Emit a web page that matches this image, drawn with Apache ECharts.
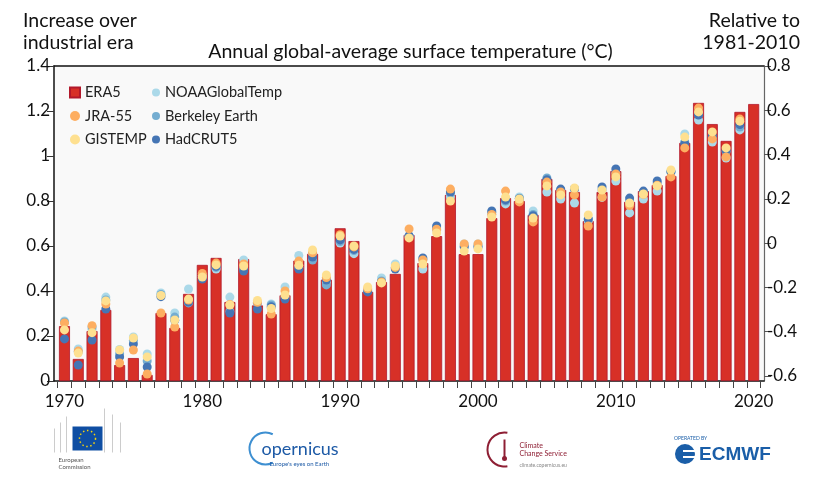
<!DOCTYPE html>
<html>
<head>
<meta charset="utf-8">
<script src="https://cdn.jsdelivr.net/npm/echarts@6/dist/echarts.min.js"></script>
<style>
  html, body { margin: 0; background: #fff; }
  #chart { width: 821px; height: 477px; }
</style>
</head>
<body>
<div id="chart"></div>
<script>
// years shown on the x axis
const years = [1970, 1971, 1972, 1973, 1974, 1975, 1976, 1977, 1978, 1979,
  1980, 1981, 1982, 1983, 1984, 1985, 1986, 1987, 1988, 1989,
  1990, 1991, 1992, 1993, 1994, 1995, 1996, 1997, 1998, 1999,
  2000, 2001, 2002, 2003, 2004, 2005, 2006, 2007, 2008, 2009,
  2010, 2011, 2012, 2013, 2014, 2015, 2016, 2017, 2018, 2019, 2020]

// increase over industrial era (°C)
const era5 = [0.244, 0.098, 0.222, 0.316, 0.071, 0.102, 0.027, 0.302, 0.236, 0.387,
  0.516, 0.547, 0.351, 0.542, 0.336, 0.297, 0.381, 0.535, 0.565, 0.450,
  0.679, 0.622, 0.396, 0.440, 0.476, 0.649, 0.524, 0.644, 0.827, 0.564,
  0.564, 0.724, 0.813, 0.800, 0.738, 0.898, 0.849, 0.840, 0.711, 0.840,
  0.933, 0.796, 0.844, 0.871, 0.911, 1.058, 1.236, 1.142, 1.067, 1.196, 1.231]

const jra55 = [0.258, 0.133, 0.246, 0.342, 0.080, 0.138, 0.031, 0.302, 0.240, 0.360,
  0.478, 0.524, 0.340, 0.520, 0.350, 0.298, 0.400, 0.533, 0.570, 0.460,
  0.650, 0.596, 0.410, 0.440, 0.505, 0.676, 0.538, 0.675, 0.853, 0.609,
  0.609, 0.740, 0.844, 0.796, 0.707, 0.884, 0.840, 0.827, 0.689, 0.818,
  0.920, 0.780, 0.830, 0.870, 0.907, 1.036, 1.213, 1.076, 0.996, 1.164, null]

const gistemp = [0.227, 0.124, 0.215, 0.356, 0.138, 0.191, 0.107, 0.380, 0.271, 0.364,
  0.462, 0.516, 0.338, 0.511, 0.358, 0.322, 0.382, 0.514, 0.582, 0.471,
  0.644, 0.600, 0.418, 0.436, 0.511, 0.636, 0.520, 0.658, 0.800, 0.578,
  0.587, 0.729, 0.818, 0.809, 0.724, 0.867, 0.827, 0.858, 0.738, 0.849,
  0.907, 0.791, 0.831, 0.867, 0.938, 1.084, 1.196, 1.107, 1.036, 1.155, null]

const noaa = [0.267, 0.142, 0.230, 0.373, 0.140, 0.196, 0.120, 0.391, 0.302, 0.409,
  0.470, 0.498, 0.373, 0.538, 0.350, 0.342, 0.418, 0.558, 0.568, 0.440,
  0.613, 0.566, 0.405, 0.458, 0.520, 0.645, 0.498, 0.670, 0.818, 0.609,
  0.609, 0.740, 0.787, 0.818, 0.756, 0.840, 0.809, 0.791, 0.711, 0.816,
  0.889, 0.747, 0.809, 0.844, 0.930, 1.098, 1.160, 1.062, 0.991, 1.116, null]

const berkeley = [0.262, 0.130, 0.240, 0.360, 0.120, 0.180, 0.089, 0.385, 0.284, 0.347,
  0.460, 0.505, 0.310, 0.498, 0.345, 0.338, 0.372, 0.505, 0.538, 0.427,
  0.620, 0.580, 0.400, 0.445, 0.505, 0.645, 0.540, 0.680, 0.835, 0.600,
  0.600, 0.750, 0.800, 0.812, 0.740, 0.902, 0.849, 0.852, 0.720, 0.850,
  0.925, 0.800, 0.838, 0.880, 0.930, 1.062, 1.185, 1.085, 1.020, 1.129, null]

const hadcrut5 = [0.187, 0.071, 0.182, 0.320, 0.107, 0.164, 0.062, 0.375, 0.270, 0.351,
  0.453, 0.510, 0.302, 0.489, 0.320, 0.330, 0.364, 0.498, 0.551, 0.449,
  0.627, 0.585, 0.396, 0.440, 0.498, 0.645, 0.547, 0.689, 0.840, 0.596,
  0.596, 0.756, 0.805, 0.810, 0.735, 0.895, 0.853, 0.855, 0.720, 0.862,
  0.942, 0.813, 0.844, 0.889, 0.930, 1.055, 1.182, 1.089, 1.025, 1.140, null]

const xLabelYears = [1970, 1980, 1990, 2000, 2010, 2020]
const xTickYears = [1969.5, 1970.5, 1971.5, 1972.5, 1973.5, 1974.5, 1975.5, 1976.5, 1977.5, 1978.5,
  1979.5, 1980.5, 1981.5, 1982.5, 1983.5, 1984.5, 1985.5, 1986.5, 1987.5, 1988.5,
  1989.5, 1990.5, 1991.5, 1992.5, 1993.5, 1994.5, 1995.5, 1996.5, 1997.5, 1998.5,
  1999.5, 2000.5, 2001.5, 2002.5, 2003.5, 2004.5, 2005.5, 2006.5, 2007.5, 2008.5,
  2009.5, 2010.5, 2011.5, 2012.5, 2013.5, 2014.5, 2015.5, 2016.5, 2017.5, 2018.5,
  2019.5, 2020.5]
const rightTicks = [-0.6, -0.4, -0.2, 0, 0.2, 0.4, 0.6, 0.8]

const FONT = 'Lato'
const pairs = arr => years.map((y, i) => [y, arr[i]]).filter(d => d[1] != null)

const dots = (name, color, data) => ({
  name,
  type: 'scatter',
  xAxisIndex: 0,
  yAxisIndex: 0,
  data: pairs(data),
  symbolSize: 9,
  itemStyle: { color, opacity: 1 },
  z: 3
})

const headStyle = { fontFamily: FONT, fontSize: 19.5, fontWeight: 'normal', color: '#111', lineHeight: 22 }

const chart = echarts.init(document.getElementById('chart'))

const option = {
  backgroundColor: '#fff',
  animation: false,
  textStyle: { fontFamily: FONT },
  title: [
    { text: 'Annual global-average surface temperature (°C)', left: 'center', top: 36, textStyle: headStyle },
    { text: 'Increase over\nindustrial era', left: 18, top: 5, textStyle: headStyle },
    { text: 'Relative to', right: 16, top: 5, textStyle: headStyle },
    { text: '1981-2010', right: 16, top: 27, textStyle: headStyle }
  ],
  legend: [
    {
      orient: 'vertical',
      left: 64,
      top: 80,
      itemWidth: 10,
      itemHeight: 10,
      itemGap: 8.5,
      textStyle: { fontFamily: FONT, fontSize: 14.5, color: '#222' },
      data: [
        { name: 'ERA5', icon: 'rect' },
        { name: 'JRA-55', icon: 'circle' },
        { name: 'GISTEMP', icon: 'circle' }
      ]
    },
    {
      orient: 'vertical',
      left: 147,
      top: 80,
      itemWidth: 8,
      itemHeight: 8,
      itemGap: 8.5,
      textStyle: { fontFamily: FONT, fontSize: 14.5, color: '#222' },
      data: [
        { name: 'NOAAGlobalTemp', icon: 'circle' },
        { name: 'Berkeley Earth', icon: 'circle' },
        { name: 'HadCRUT5', icon: 'circle' }
      ]
    }
  ],
  grid: {
    left: 54,
    right: 57,
    top: 66,
    bottom: 96,
    show: true,
    backgroundColor: '#f9f9f9',
    borderWidth: 0
  },
  xAxis: [
    {
      type: 'value',
      min: 1969.24,
      max: 2020.75,
      splitLine: { show: false },
      axisLine: { show: true, onZero: false, lineStyle: { color: '#111', width: 1.5 } },
      axisTick: { show: true, length: 7, customValues: xTickYears, lineStyle: { color: '#444' } },
      axisLabel: {
        customValues: xLabelYears,
        margin: 12,
        fontFamily: FONT,
        fontSize: 17,
        color: '#111',
        formatter: v => String(v)
      }
    },
    {
      type: 'value',
      position: 'top',
      min: 1969.24,
      max: 2020.75,
      splitLine: { show: false },
      axisLine: { show: true, onZero: false, lineStyle: { color: '#111', width: 1.5 } },
      axisTick: { show: false },
      axisLabel: { show: false }
    }
  ],
  yAxis: [
    {
      type: 'value',
      min: 0,
      max: 1.4,
      interval: 0.2,
      splitLine: { show: false },
      axisLine: { show: true, onZero: false, lineStyle: { color: '#111', width: 1.5 } },
      axisTick: { show: true, length: 7, lineStyle: { color: '#333' } },
      axisLabel: { margin: 4, fontFamily: FONT, fontSize: 17, color: '#111' }
    },
    {
      type: 'value',
      position: 'right',
      min: -0.6227,
      max: 0.8,
      splitLine: { show: false },
      axisLine: { show: true, onZero: false, lineStyle: { color: '#666', width: 1.2 } },
      axisTick: { show: true, length: 7, customValues: rightTicks, lineStyle: { color: '#555' } },
      axisLabel: {
        customValues: rightTicks,
        margin: 3,
        fontFamily: FONT,
        fontSize: 17,
        color: '#111',
        formatter: v => String(Math.round(v * 10) / 10)
      }
    }
  ],
  series: [
    {
      name: 'ERA5',
      type: 'bar',
      xAxisIndex: 0,
      yAxisIndex: 0,
      data: pairs(era5),
      barWidth: 11,
      itemStyle: { color: '#d73027', borderColor: '#b2182b', borderWidth: 0.8 },
      z: 2
    },
    dots('NOAAGlobalTemp', '#abd9e9', noaa),
    dots('Berkeley Earth', '#74add1', berkeley),
    dots('HadCRUT5', '#4575b4', hadcrut5),
    dots('JRA-55', '#fdae61', jra55),
    dots('GISTEMP', '#fee090', gistemp)
  ],
  graphic: [
    // European Commission
    { type: 'group', left: 52, top: 406, children: [
      { type: 'line', shape: { x1: 0, y1: 20, x2: 0, y2: 44 }, style: { stroke: '#ccc', lineWidth: 1 } },
      { type: 'line', shape: { x1: 6, y1: 14, x2: 6, y2: 44 }, style: { stroke: '#ccc', lineWidth: 1 } },
      { type: 'line', shape: { x1: 12, y1: 8, x2: 12, y2: 44 }, style: { stroke: '#ccc', lineWidth: 1 } },
      { type: 'line', shape: { x1: 50, y1: 0, x2: 50, y2: 44 }, style: { stroke: '#ccc', lineWidth: 1 } },
      { type: 'line', shape: { x1: 58, y1: 6, x2: 58, y2: 44 }, style: { stroke: '#ccc', lineWidth: 1 } },
      { type: 'line', shape: { x1: 66, y1: 14, x2: 66, y2: 44 }, style: { stroke: '#ccc', lineWidth: 1 } },
      { type: 'rect', shape: { x: 18, y: 18, width: 30, height: 24 }, style: { fill: '#0f4ea3' } },
      { type: 'circle', shape: { cx: 33, cy: 30, r: 8 }, style: { fill: 'none', stroke: '#f6d40c', lineWidth: 1.5, lineDash: [1.5, 2.6] } },
      { type: 'text', x: 4, y: 48, style: { text: 'European\nCommission', fontSize: 6, lineHeight: 7, fill: '#555', fontFamily: FONT } }
    ] },
    // Copernicus
    { type: 'group', left: 247, top: 430, children: [
      { type: 'arc', shape: { cx: 16, cy: 18, r: 16, startAngle: -1.1, endAngle: 1.1, clockwise: false }, style: { stroke: '#3d8fd1', lineWidth: 2, fill: 'none' } },
      { type: 'text', x: 12, y: 10, style: { text: 'opernicus', fontSize: 18, fill: '#1d5aa6', fontFamily: FONT } },
      { type: 'text', x: 20, y: 31, style: { text: 'Europe\'s eyes on Earth', fontSize: 6, fill: '#1d5aa6', fontFamily: FONT } }
    ] },
    // Climate Change Service
    { type: 'group', left: 485, top: 430, children: [
      { type: 'arc', shape: { cx: 18, cy: 18, r: 17, startAngle: -1.4, endAngle: 1.4, clockwise: false }, style: { stroke: '#8e1f34', lineWidth: 2, fill: 'none' } },
      { type: 'line', shape: { x1: 18, y1: 8, x2: 18, y2: 26 }, style: { stroke: '#8e1f34', lineWidth: 2 } },
      { type: 'circle', shape: { cx: 18, cy: 27, r: 2.5 }, style: { fill: '#8e1f34' } },
      { type: 'text', x: 33, y: 10, style: { text: 'Climate\nChange Service', fontSize: 7, lineHeight: 8, fill: '#8e1f34', fontFamily: FONT } },
      { type: 'text', x: 33, y: 31, style: { text: 'climate.copernicus.eu', fontSize: 5, fill: '#888', fontFamily: FONT } }
    ] },
    // ECMWF
    { type: 'group', left: 674, top: 436, children: [
      { type: 'text', x: 1, y: 0, style: { text: 'OPERATED BY', fontSize: 5, fill: '#1a5ea8', fontFamily: FONT } },
      { type: 'circle', shape: { cx: 12, cy: 18, r: 10 }, style: { fill: '#1a5ea8' } },
      { type: 'rect', shape: { x: 10, y: 14, width: 14, height: 2 }, style: { fill: '#fff' } },
      { type: 'rect', shape: { x: 10, y: 20, width: 14, height: 2 }, style: { fill: '#fff' } },
      { type: 'text', x: 26, y: 9, style: { text: 'ECMWF', fontSize: 19, fontWeight: 'bold', fill: '#1a5ea8', fontFamily: 'Liberation Sans' } }
    ] }
  ]
}

chart.setOption(option)
window.addEventListener('resize', () => chart.resize())
</script>
</body>
</html>
